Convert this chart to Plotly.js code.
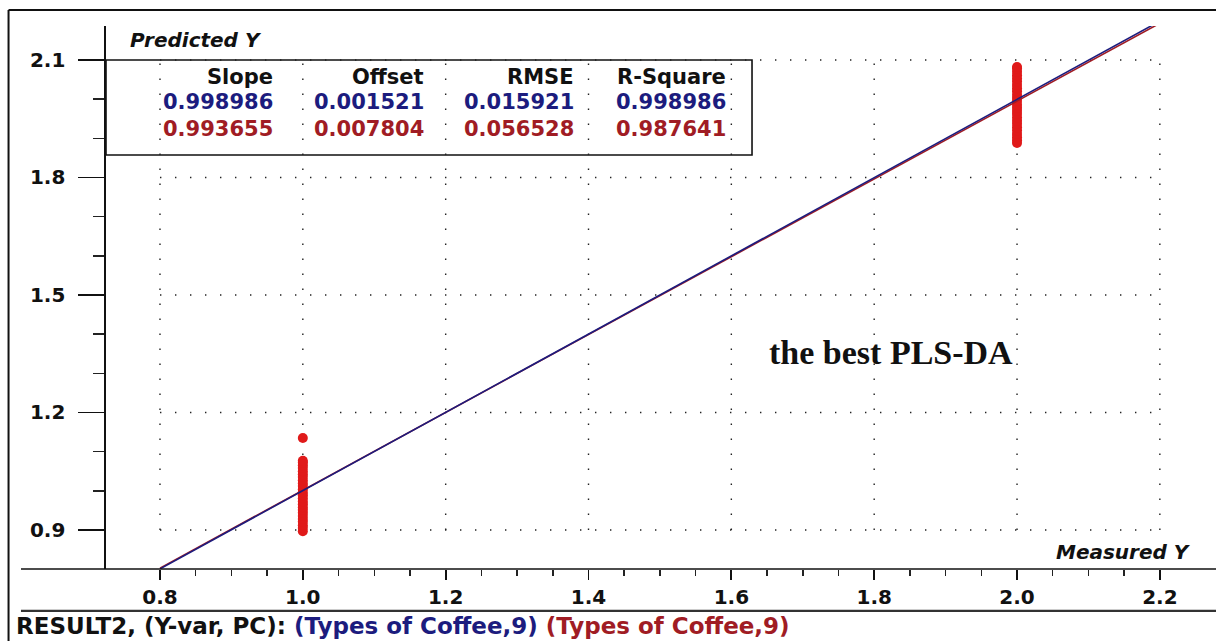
<!DOCTYPE html>
<html>
<head>
<meta charset="utf-8">
<script src="https://cdn.plot.ly/plotly-3.0.1.min.js"></script>
<style>
html,body{margin:0;padding:0;background:#fff;}
#chart{width:1216px;height:641px;}
</style>
</head>
<body>
<div id="chart"></div>
<script>
// ---- data ----
var measuredLow = [1,1,1,1,1,1,1,1,1,1,1,1,1,1,1,1,1,1,1,1,1,1,1,1,1,1];
var predictedLow = [0.897,0.905,0.912,0.921,0.928,0.936,0.944,0.951,0.958,0.966,0.973,0.981,0.989,0.996,1.004,1.012,1.019,1.027,1.035,1.042,1.050,1.058,1.065,1.072,1.077,1.135];
var measuredHigh = [2,2,2,2,2,2,2,2,2,2,2,2,2,2,2,2,2,2,2,2,2,2,2,2,2];
var predictedHigh = [1.888,1.895,1.903,1.911,1.920,1.928,1.937,1.945,1.953,1.962,1.970,1.978,1.986,1.995,2.003,2.011,2.020,2.028,2.036,2.045,2.053,2.061,2.070,2.078,2.082];

var statHeaders = ["Slope", "Offset", "RMSE", "R-Square"];
var statsBlue = ["0.998986", "0.001521", "0.015921", "0.998986"];
var statsRed  = ["0.993655", "0.007804", "0.056528", "0.987641"];

var lineX = [0.8, 2.2];
var xTicks = [0.8, 1.0, 1.2, 1.4, 1.6, 1.8, 2.0, 2.2];
var xTickText = ["0.8", "1.0", "1.2", "1.4", "1.6", "1.8", "2.0", "2.2"];
var yTicks = [0.9, 1.2, 1.5, 1.8, 2.1];
var yTickText = ["0.9", "1.2", "1.5", "1.8", "2.1"];

var footerBlack = "RESULT2, (Y-var, PC): ";
var footerBlue = "(Types of Coffee,9)";
var footerRed = " (Types of Coffee,9)";

// ---- build ----
var BLUE = "#1c1c7e", RED = "#a01c24", PT = "#e01a1a";
var FONT = "DejaVu Sans";

var slopeB = parseFloat(statsBlue[0]), offB = parseFloat(statsBlue[1]);
var slopeR = parseFloat(statsRed[0]), offR = parseFloat(statsRed[1]);

function minorBetween(ticks, n) {
  var out = [];
  for (var i = 0; i < ticks.length - 1; i++) {
    var step = (ticks[i+1] - ticks[i]) / (n + 1);
    for (var k = 1; k <= n; k++) out.push(+(ticks[i] + k * step).toFixed(4));
  }
  return out;
}

var traces = [
  {x: measuredLow.concat(measuredHigh), y: predictedLow.concat(predictedHigh),
   type: "scatter", mode: "markers",
   marker: {color: PT, size: 10, line: {width: 0}}},
  {x: lineX, y: lineX.map(function(v){return slopeR*v + offR;}),
   type: "scatter", mode: "lines", line: {color: RED, width: 1.6}},
  {x: lineX, y: lineX.map(function(v){return slopeB*v + offB;}),
   type: "scatter", mode: "lines", line: {color: BLUE, width: 1.6}}
];

var xMin = xTicks[0], xMax = xTicks[xTicks.length-1];
var yMin = yTicks[0], yMax = yTicks[yTicks.length-1];
var shapes = [];
var gridLine = {color: "#222", width: 1.4, dash: "1.4px,13.6px"};
xTicks.forEach(function(v){
  shapes.push({type:"line", layer:"below", xref:"x", yref:"y", x0:v, x1:v, y0:yMin, y1:yMax, line:gridLine});
});
yTicks.forEach(function(v){
  shapes.push({type:"line", layer:"below", xref:"x", yref:"y", x0:xMin, x1:xMax, y0:v, y1:v, line:gridLine});
});
// stats box
shapes.push({type:"rect", layer:"below", xref:"paper", yref:"paper", x0:0, x1:0.582, y0:0.7624, y1:0.9374,
  fillcolor:"#fff", line:{color:"#111", width:1.6}});
// frame / axis extensions
shapes.push({type:"line", xref:"paper", yref:"paper", x0:-0.0766, x1:1, y0:0, y1:0, line:{color:"#111", width:1.6}});
shapes.push({type:"line", xref:"paper", yref:"paper", x0:-0.0766, x1:1, y0:-0.0773, y1:-0.0773, line:{color:"#333", width:2.2}});
shapes.push({type:"line", xref:"paper", yref:"paper", x0:-0.0878, x1:-0.0878, y0:-0.14, y1:1.0295, line:{color:"#111", width:2}});
shapes.push({type:"line", xref:"paper", yref:"paper", x0:-0.0878, x1:1.01, y0:1.0295, y1:1.0295, line:{color:"#111", width:2}});

var annotations = [];
var colX = [0.1523, 0.2883, 0.4234, 0.5604];
var rowY = [0.9061, 0.8600, 0.8103];
function cell(text, x, y, color) {
  annotations.push({xref:"paper", yref:"paper", x:x, y:y, xanchor:"right", yanchor:"middle",
    text:"<b>"+text+"</b>", showarrow:false, font:{family:FONT, size:21, color:color}});
}
for (var c = 0; c < statHeaders.length; c++) {
  cell(statHeaders[c], colX[c], rowY[0], "#111");
  cell(statsBlue[c], colX[c], rowY[1], BLUE);
  cell(statsRed[c], colX[c], rowY[2], RED);
}
annotations.push({xref:"paper", yref:"paper", x:0.0198, y:0.9742, xanchor:"left", yanchor:"middle",
  text:"<b><i>Predicted Y</i></b>", showarrow:false, font:{family:FONT, size:20, color:"#111"}});
annotations.push({xref:"paper", yref:"paper", x:0.9793, y:0.0313, xanchor:"right", yanchor:"middle",
  text:"<b><i>Measured Y</i></b>", showarrow:false, font:{family:FONT, size:20, color:"#111"}});
annotations.push({xref:"paper", yref:"paper", x:0.5955, y:0.3978, xanchor:"left", yanchor:"middle",
  text:"<b>the best PLS-DA</b>", showarrow:false, font:{family:"Liberation Serif", size:34, color:"#111"}});
annotations.push({xref:"paper", yref:"paper", x:-0.0829, y:-0.105, xanchor:"left", yanchor:"middle",
  text:"<b>"+footerBlack+"<span style='color:"+BLUE+"'>"+footerBlue+"</span><span style='color:"+RED+"'>"+footerRed+"</span></b>",
  showarrow:false, font:{family:FONT, size:23, color:"#111"}});

var layout = {
  width:1216, height:641,
  margin:{l:106, r:0, t:26, b:72},
  paper_bgcolor:"#fff", plot_bgcolor:"rgba(0,0,0,0)",
  showlegend:false, hovermode:false,
  xaxis:{range:[0.7244, 2.2786], showgrid:false, zeroline:false, showline:false,
    tickmode:"array", tickvals:xTicks, ticktext:xTickText,
    ticks:"outside", ticklen:10, tickwidth:1.8, tickcolor:"#111", ticklabelstandoff:0,
    minor:{tickmode:"array", tickvals:minorBetween(xTicks, 3), ticks:"outside", ticklen:6, tickwidth:1.5, tickcolor:"#222", showgrid:false},
    tickfont:{family:FONT, size:20, weight:700, color:"#111"}},
  yaxis:{range:[0.8004, 2.1868], showgrid:false, zeroline:false, showline:true, linecolor:"#111", linewidth:1.6,
    tickmode:"array", tickvals:yTicks, ticktext:yTickText,
    ticks:"outside", ticklen:26, tickwidth:1.8, tickcolor:"#111", ticklabelstandoff:9,
    minor:{tickmode:"array", tickvals:minorBetween(yTicks, 2), ticks:"outside", ticklen:11, tickwidth:1.5, tickcolor:"#222", showgrid:false},
    tickfont:{family:FONT, size:20, weight:700, color:"#111"}},
  shapes:shapes, annotations:annotations
};

Plotly.newPlot("chart", traces, layout, {staticPlot:true, displayModeBar:false});
</script>
</body>
</html>
